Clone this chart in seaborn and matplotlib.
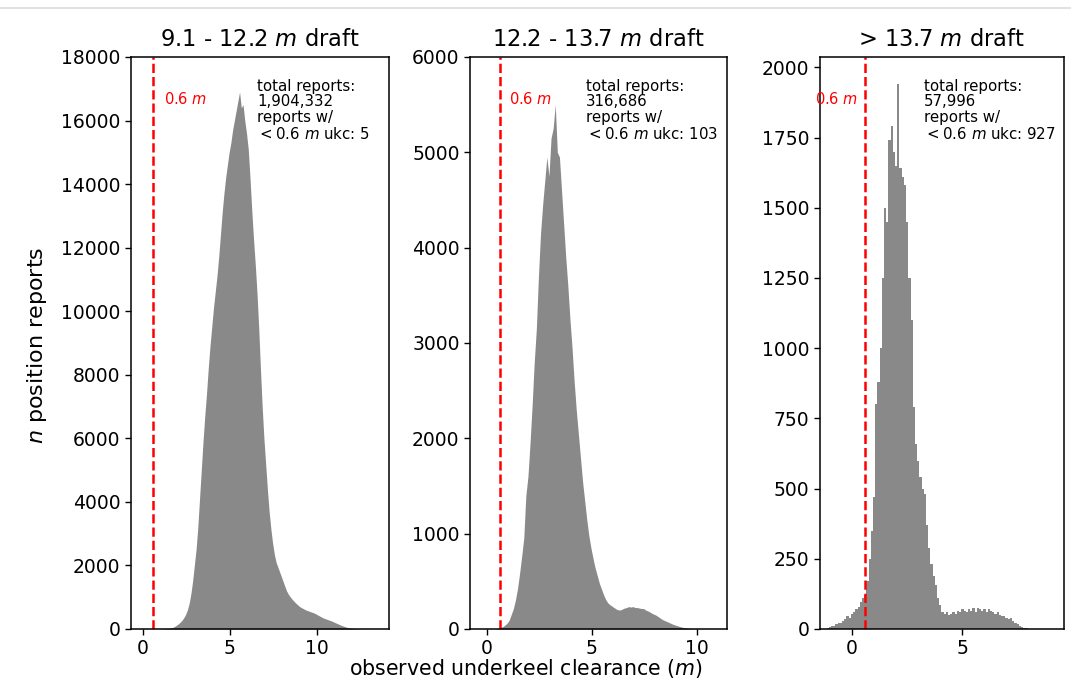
import numpy as np
import pandas as pd
import matplotlib
matplotlib.use("Agg")
import matplotlib.pyplot as plt
from matplotlib.lines import Line2D
from matplotlib.ticker import MultipleLocator
import seaborn as sns

# ---- histogram counts per 0.1 m bin of observed underkeel clearance ----
BIN_W = 0.1

# 9.1 - 12.2 m draft
draft1_start = 1.0
draft1_counts = [
    5, 8, 10, 14, 18, 25, 40, 60, 90, 130,
    170, 220, 280, 360, 460, 600, 800, 1100, 1500, 2000,
    2500, 3200, 4100, 5000, 5900, 6700, 7400, 8200, 8900, 9500,
    10100, 10600, 11100, 11700, 12400, 13100, 13700, 14200, 14600, 15000,
    15300, 15700, 16000, 16300, 16600, 16900, 16400, 16500, 16000, 15600,
    15100, 14200, 13200, 12300, 11500, 10600, 9500, 8200, 7000, 6000,
    5200, 4400, 3700, 3150, 2700, 2350, 2100, 1950, 1800, 1650,
    1500, 1350, 1200, 1100, 1020, 950, 890, 830, 780, 730,
    690, 660, 630, 600, 580, 560, 540, 520, 500, 470,
    440, 410, 380, 350, 330, 310, 290, 270, 250, 225,
    200, 175, 150, 125, 105, 85, 65, 50, 38, 28,
    20, 14, 9, 6, 4, 2, 1, 0,
]

# 12.2 - 13.7 m draft
draft2_start = 0.4
draft2_counts = [
    3, 8, 15, 25, 40, 60, 90, 150, 210, 300,
    420, 580, 760, 950, 1400, 1600, 1950, 2350, 2800, 3150,
    3700, 4150, 4450, 4700, 4950, 4750, 5150, 5250, 5500, 5000,
    4950, 4600, 4250, 3900, 3600, 3250, 2950, 2600, 2300, 2050,
    1800, 1550, 1350, 1150, 980, 850, 740, 640, 560, 480,
    420, 360, 310, 275, 255, 240, 225, 210, 200, 200,
    210, 220, 225, 235, 230, 235, 225, 225, 220, 215,
    215, 200, 190, 180, 165, 155, 145, 130, 115, 100,
    90, 80, 70, 60, 50, 42, 35, 28, 22, 16,
    12, 8, 5, 3, 2, 1,
]

# > 13.7 m draft
draft3_start = -1.15
draft3_counts = [
    5, 8, 12, 10, 18, 22, 20, 30, 35, 45,
    40, 55, 60, 70, 80, 95, 110, 120, 170, 250,
    350, 470, 800, 880, 1000, 1250, 1500, 1450, 1740, 1790,
    1700, 1650, 1940, 1640, 1610, 1580, 1450, 1250, 1100, 790,
    660, 600, 540, 500, 480, 370, 290, 230, 190, 155,
    110, 85, 60, 55, 60, 50, 55, 60, 55, 65,
    60, 70, 65, 60, 70, 65, 75, 60, 75, 70,
    65, 70, 60, 70, 65, 60, 55, 60, 50, 45,
    45, 40, 35, 40, 30, 22, 18, 12, 8, 5,
    2,
]

titles = ["9.1 - 12.2 $m$ draft", "12.2 - 13.7 $m$ draft", "> 13.7 $m$ draft"]
total_reports = ["1,904,332", "316,686", "57,996"]
below_threshold = ["5", "103", "927"]
threshold = 0.6

panels = [
    (draft1_start, draft1_counts, "poly"),
    (draft2_start, draft2_counts, "poly"),
    (draft3_start, draft3_counts, "step"),
]

# ---- layout ----
fig = plt.figure(figsize=(10.71, 6.79), dpi=100)
H = 679.0
W = 1071.0
bottom = 1 - 629 / H
height = (629 - 57) / H
axes_px = [(131, 389), (470, 727), (820, 1064)]
axes = [fig.add_axes([l / W, bottom, (r - l) / W, height]) for l, r in axes_px]

xlims = [(-0.69, 14.14), (-0.81, 11.43), (-1.45, 9.6)]
ylims = [(0, 18000), (0, 6000), None]
ysteps = [2000, 1000, 250]
text_x = [0.488, 0.451, 0.426]
thr_label = [(1.2, "left"), (1.05, "left"), (0.3, "right")]

for i, ax in enumerate(axes):
    start, counts, element = panels[i]
    counts = np.asarray(counts, dtype=float)
    centers = start + BIN_W * (np.arange(len(counts)) + 0.5)
    stop = start + BIN_W * len(counts)
    df = pd.DataFrame({"ukc": centers, "n": counts})
    sns.histplot(data=df, x="ukc", weights="n", binwidth=BIN_W,
                 binrange=(start, stop), ax=ax,
                 element=element, fill=True, color="#898989", alpha=1.0,
                 linewidth=0)
    ax.set_xlim(*xlims[i])
    if ylims[i] is not None:
        ax.set_ylim(*ylims[i])
    else:
        ax.set_ylim(0, max(counts) * 1.05)
    ax.xaxis.set_major_locator(MultipleLocator(5))
    ax.yaxis.set_major_locator(MultipleLocator(ysteps[i]))
    ax.set_xlabel("")
    ax.set_ylabel("")
    ax.tick_params(labelsize=13.5, length=4, width=1, pad=3.5)
    for sp in ax.spines.values():
        sp.set_linewidth(1.1)
        sp.set_color("black")
    ax.set_title(titles[i], fontsize=16.3, pad=8)

    ax.axvline(threshold, color="red", linestyle="--", linewidth=1.8)
    lx, ha = thr_label[i]
    ax.text(lx, 0.927, "0.6 $m$", color="red", fontsize=10.5, ha=ha, va="center",
            transform=ax.get_xaxis_transform())

    ax.text(text_x[i], 0.962,
            "total reports:\n" + total_reports[i] + "\nreports w/\n$<0.6$ $m$ ukc: "
            + below_threshold[i],
            transform=ax.transAxes, fontsize=10.8, ha="left", va="top",
            linespacing=1.06)

fig.text(526 / W, 1 - 668 / H, "observed underkeel clearance ($m$)",
         fontsize=14.8, ha="center", va="center")
fig.text(37 / W, 1 - 345 / H, "$n$ position reports", fontsize=16,
         rotation=90, ha="center", va="center")

fig.add_artist(Line2D([0, 1], [1 - 7.5 / H] * 2, color="#e2e2e2", lw=1.5,
                      transform=fig.transFigure))

fig.savefig("out.png", dpi=100)
